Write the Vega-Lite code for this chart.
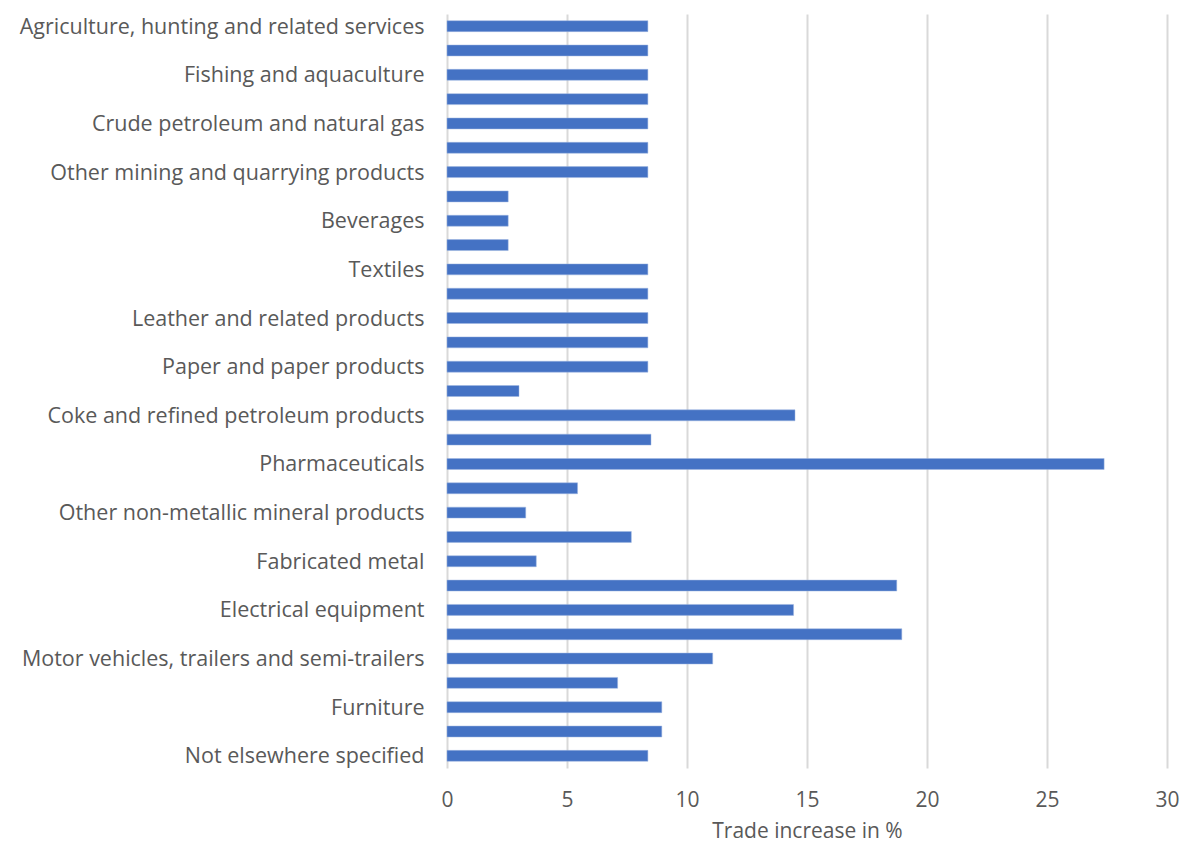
{
  "$schema": "https://vega.github.io/schema/vega-lite/v6.json",
  "width": 720,
  "height": 754,
  "autosize": {"type": "none"},
  "padding": {"left": 447, "top": 14, "right": 16, "bottom": 77},
  "background": "white",
  "config": {
    "view": {"stroke": null},
    "font": "Open Sans"
  },
  "data": {
    "values": [
      {"sector": "Agriculture, hunting and related services", "order": 1, "value": 8.37},
      {"sector": "Forestry and logging", "order": 2, "value": 8.37},
      {"sector": "Fishing and aquaculture ", "order": 3, "value": 8.37},
      {"sector": "Coal and lignite", "order": 4, "value": 8.37},
      {"sector": "Crude petroleum and natural gas", "order": 5, "value": 8.37},
      {"sector": "Metal ores", "order": 6, "value": 8.37},
      {"sector": "Other mining and quarrying products", "order": 7, "value": 8.37},
      {"sector": "Food products", "order": 8, "value": 2.55},
      {"sector": "Beverages", "order": 9, "value": 2.55},
      {"sector": "Tobacco products", "order": 10, "value": 2.55},
      {"sector": "Textiles", "order": 11, "value": 8.37},
      {"sector": "Wearing apparel", "order": 12, "value": 8.37},
      {"sector": "Leather and related products", "order": 13, "value": 8.37},
      {"sector": "Wood and products of wood and cork", "order": 14, "value": 8.37},
      {"sector": "Paper and paper products", "order": 15, "value": 8.37},
      {"sector": "Printing and recorded media", "order": 16, "value": 3.0},
      {"sector": "Coke and refined petroleum products", "order": 17, "value": 14.5},
      {"sector": "Chemicals and chemical products", "order": 18, "value": 8.5},
      {"sector": "Pharmaceuticals", "order": 19, "value": 27.38},
      {"sector": "Rubber and plastics products", "order": 20, "value": 5.44},
      {"sector": "Other non-metallic mineral products", "order": 21, "value": 3.28},
      {"sector": "Basic metals", "order": 22, "value": 7.68},
      {"sector": "Fabricated metal ", "order": 23, "value": 3.72},
      {"sector": "Computer, electronic and optical products", "order": 24, "value": 18.74},
      {"sector": "Electrical equipment", "order": 25, "value": 14.44},
      {"sector": "Machinery and equipment n.e.c.", "order": 26, "value": 18.95},
      {"sector": "Motor vehicles, trailers and semi-trailers", "order": 27, "value": 11.07},
      {"sector": "Other transport equipment", "order": 28, "value": 7.11},
      {"sector": "Furniture", "order": 29, "value": 8.95},
      {"sector": "Other manufactured goods", "order": 30, "value": 8.95},
      {"sector": "Not elsewhere specified", "order": 31, "value": 8.37}
    ]
  },
  "mark": {"type": "bar", "color": "#4472C4", "stroke": "#9fb6e0", "strokeWidth": 0.5},
  "encoding": {
    "y": {
      "field": "sector",
      "type": "nominal",
      "sort": {"field": "order", "order": "ascending"},
      "scale": {"paddingInner": 0.55, "paddingOuter": 0.275},
      "axis": {
        "title": null,
        "domain": false,
        "ticks": false,
        "grid": false,
        "labelFontSize": 21.5,
        "labelColor": "#595959",
        "labelPadding": 23,
        "labelOffset": 1.5,
        "labelLimit": 500,
        "labelExpr": "indexof(['Forestry and logging','Coal and lignite','Metal ores','Food products','Tobacco products','Wearing apparel','Wood and products of wood and cork','Printing and recorded media','Chemicals and chemical products','Rubber and plastics products','Basic metals','Computer, electronic and optical products','Machinery and equipment n.e.c.','Other transport equipment','Other manufactured goods'], datum.value) >= 0 ? '' : datum.label"
      }
    },
    "x": {
      "field": "value",
      "type": "quantitative",
      "scale": {"domain": [0, 30], "nice": false},
      "axis": {
        "title": "Trade increase in %",
        "titleFontSize": 21,
        "titleFontWeight": "normal",
        "titleColor": "#595959",
        "titlePadding": 10,
        "values": [0, 5, 10, 15, 20, 25, 30],
        "domain": false,
        "ticks": false,
        "grid": true,
        "gridColor": "#d9d9d9",
        "gridWidth": 2,
        "labelFontSize": 21,
        "labelColor": "#595959",
        "labelPadding": 21,
        "labelFlush": false
      }
    }
  }
}
